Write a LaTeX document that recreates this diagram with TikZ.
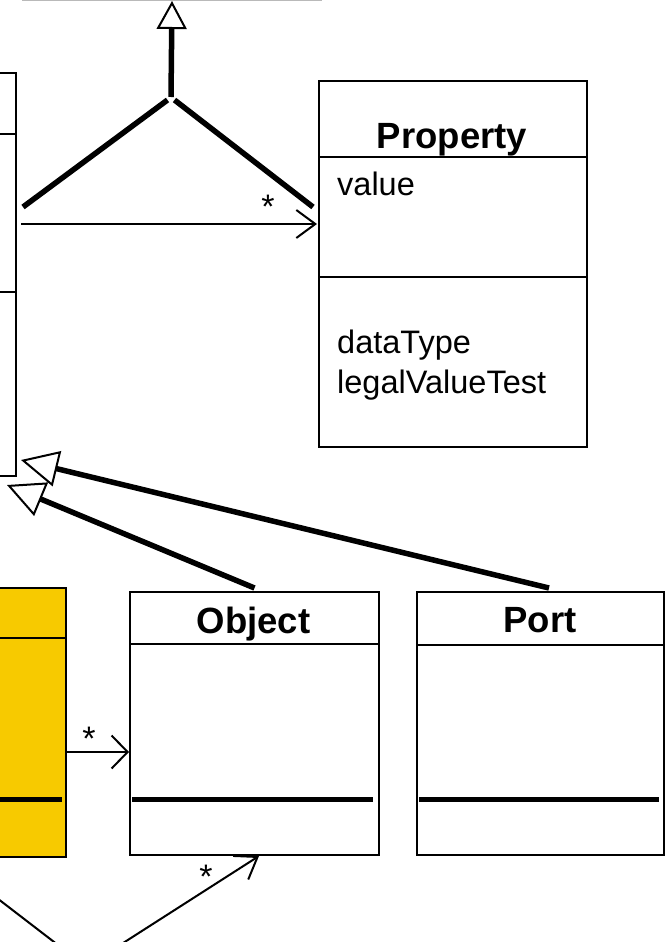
\documentclass[tikz,border=0pt]{standalone}
\usepackage{fontspec}
\setmainfont{Liberation Sans}
\usetikzlibrary{arrows.meta,calc}
\definecolor{umlyellow}{RGB}{247,202,0}
\begin{document}
\begin{tikzpicture}[x=1pt,y=-1pt,
  umlbox/.style={draw, line width=2pt, inner sep=0pt, rectangle},
  divline/.style={line width=2pt},
  opline/.style={line width=5pt},
  genline/.style={line width=5.5pt, -{Triangle[length=28pt, width=30pt, line width=2pt, fill=white]}},
  genbig/.style={line width=5.5pt, -{Triangle[length=37pt, width=36pt, line width=2pt, fill=white]}},
  branch/.style={line width=5.5pt},
  assoc/.style={line width=2pt},
  title/.style={font=\fontsize{36.5}{40}\selectfont\bfseries, anchor=base, inner sep=0pt},
  attr/.style={font=\fontsize{32.5}{38}\selectfont, anchor=base west, inner sep=0pt},
  mult/.style={font=\fontsize{34}{38}\selectfont, anchor=base, inner sep=0pt}
]
\clip (0,0) rectangle (665,942);
\fill[white] (0,0) rectangle (665,942);

% boxes
\node[umlbox, draw=gray!55, minimum width=298pt, minimum height=100pt, anchor=south west] (topbox) at (22,1) {};
\node[umlbox, minimum width=100pt, minimum height=403pt, anchor=north east] (leftbox) at (17,72) {};
\node[umlbox, minimum width=268pt, minimum height=366pt, anchor=north west] (prop) at (318,80) {};
\node[umlbox, fill=umlyellow, minimum width=100pt, minimum height=269pt, anchor=north east] (yel) at (67,587) {};
\node[umlbox, minimum width=249pt, minimum height=263pt, anchor=north west] (obj) at (129,591) {};
\node[umlbox, minimum width=247pt, minimum height=263pt, anchor=north west] (port) at (416,591) {};

% dividers
\draw[divline] (leftbox.west |- 0,134) -- (leftbox.east |- 0,134);
\draw[divline] (leftbox.west |- 0,292) -- (leftbox.east |- 0,292);
\draw[divline] (prop.west |- 0,157) -- (prop.east |- 0,157);
\draw[divline] (prop.west |- 0,277) -- (prop.east |- 0,277);
\draw[divline] (yel.west |- 0,638) -- (yel.east |- 0,638);
\draw[opline] (yel.west |- 0,799) -- (62,799);
\draw[divline] (obj.west |- 0,644) -- (obj.east |- 0,644);
\draw[opline] (132,799) -- (373,799);
\draw[divline] (port.west |- 0,645) -- (port.east |- 0,645);
\draw[opline] (419,799) -- (659,799);

% texts
\node[title] (tprop) at (452,148) {Property};
\node[title] (tobj) at (253.5,633) {Object};
\node[title] (tport) at (540,632) {Port};
\node[attr] (avalue) at (337,195) {value};
\node[attr] (adt) at (337,353) {dataType};
\node[attr] (alvt) at (337,393) {legalValueTest};

% top generalization tree
\coordinate (junc) at (171,97);
\draw[genline] (junc) -- (topbox.south);
\draw[branch] ($(leftbox.east |- 0,207)+(6,0)$) -- (167.5,100);
\draw[branch] ($(prop.west |- 0,207)+(-5,0)$) -- (174.5,100);

% association leftbox -> property
\draw[assoc, -{Straight Barb[length=19pt, width=28pt, line width=2pt]}]
  ($(leftbox.east |- 0,224)+(4,0)$) -- ($(prop.west |- 0,224)+(-1,0)$);
\node[mult] (m1) at (268,218) {*};

% lower generalizations
\coordinate (tipA) at (21,460);
\coordinate (tipB) at (7,485);
\draw[genbig] ($(port.north)+(8.5,-3)$) -- (tipA);
\draw[genbig] ($(obj.north)+(0,-3)$) -- (tipB);

% association yellow -> object
\draw[assoc, -{Straight Barb[length=16pt, width=33pt, line width=2pt]}]
  (yel.east |- 0,752) -- (obj.west |- 0,752);
\node[mult] (m2) at (89,750) {*};

% bottom connectors
\coordinate (bl1) at (-7,895);
\coordinate (bl2) at (58,945);
\draw[assoc] (bl1) -- (bl2);
\coordinate (br1) at (120,945);
\draw[assoc, -{Straight Barb[length=20pt, width=28pt, line width=2pt]}]
  (br1) -- ($(obj.south)+(4.5,0)$);
\node[mult] (m3) at (206,888) {*};
\end{tikzpicture}
\end{document}
